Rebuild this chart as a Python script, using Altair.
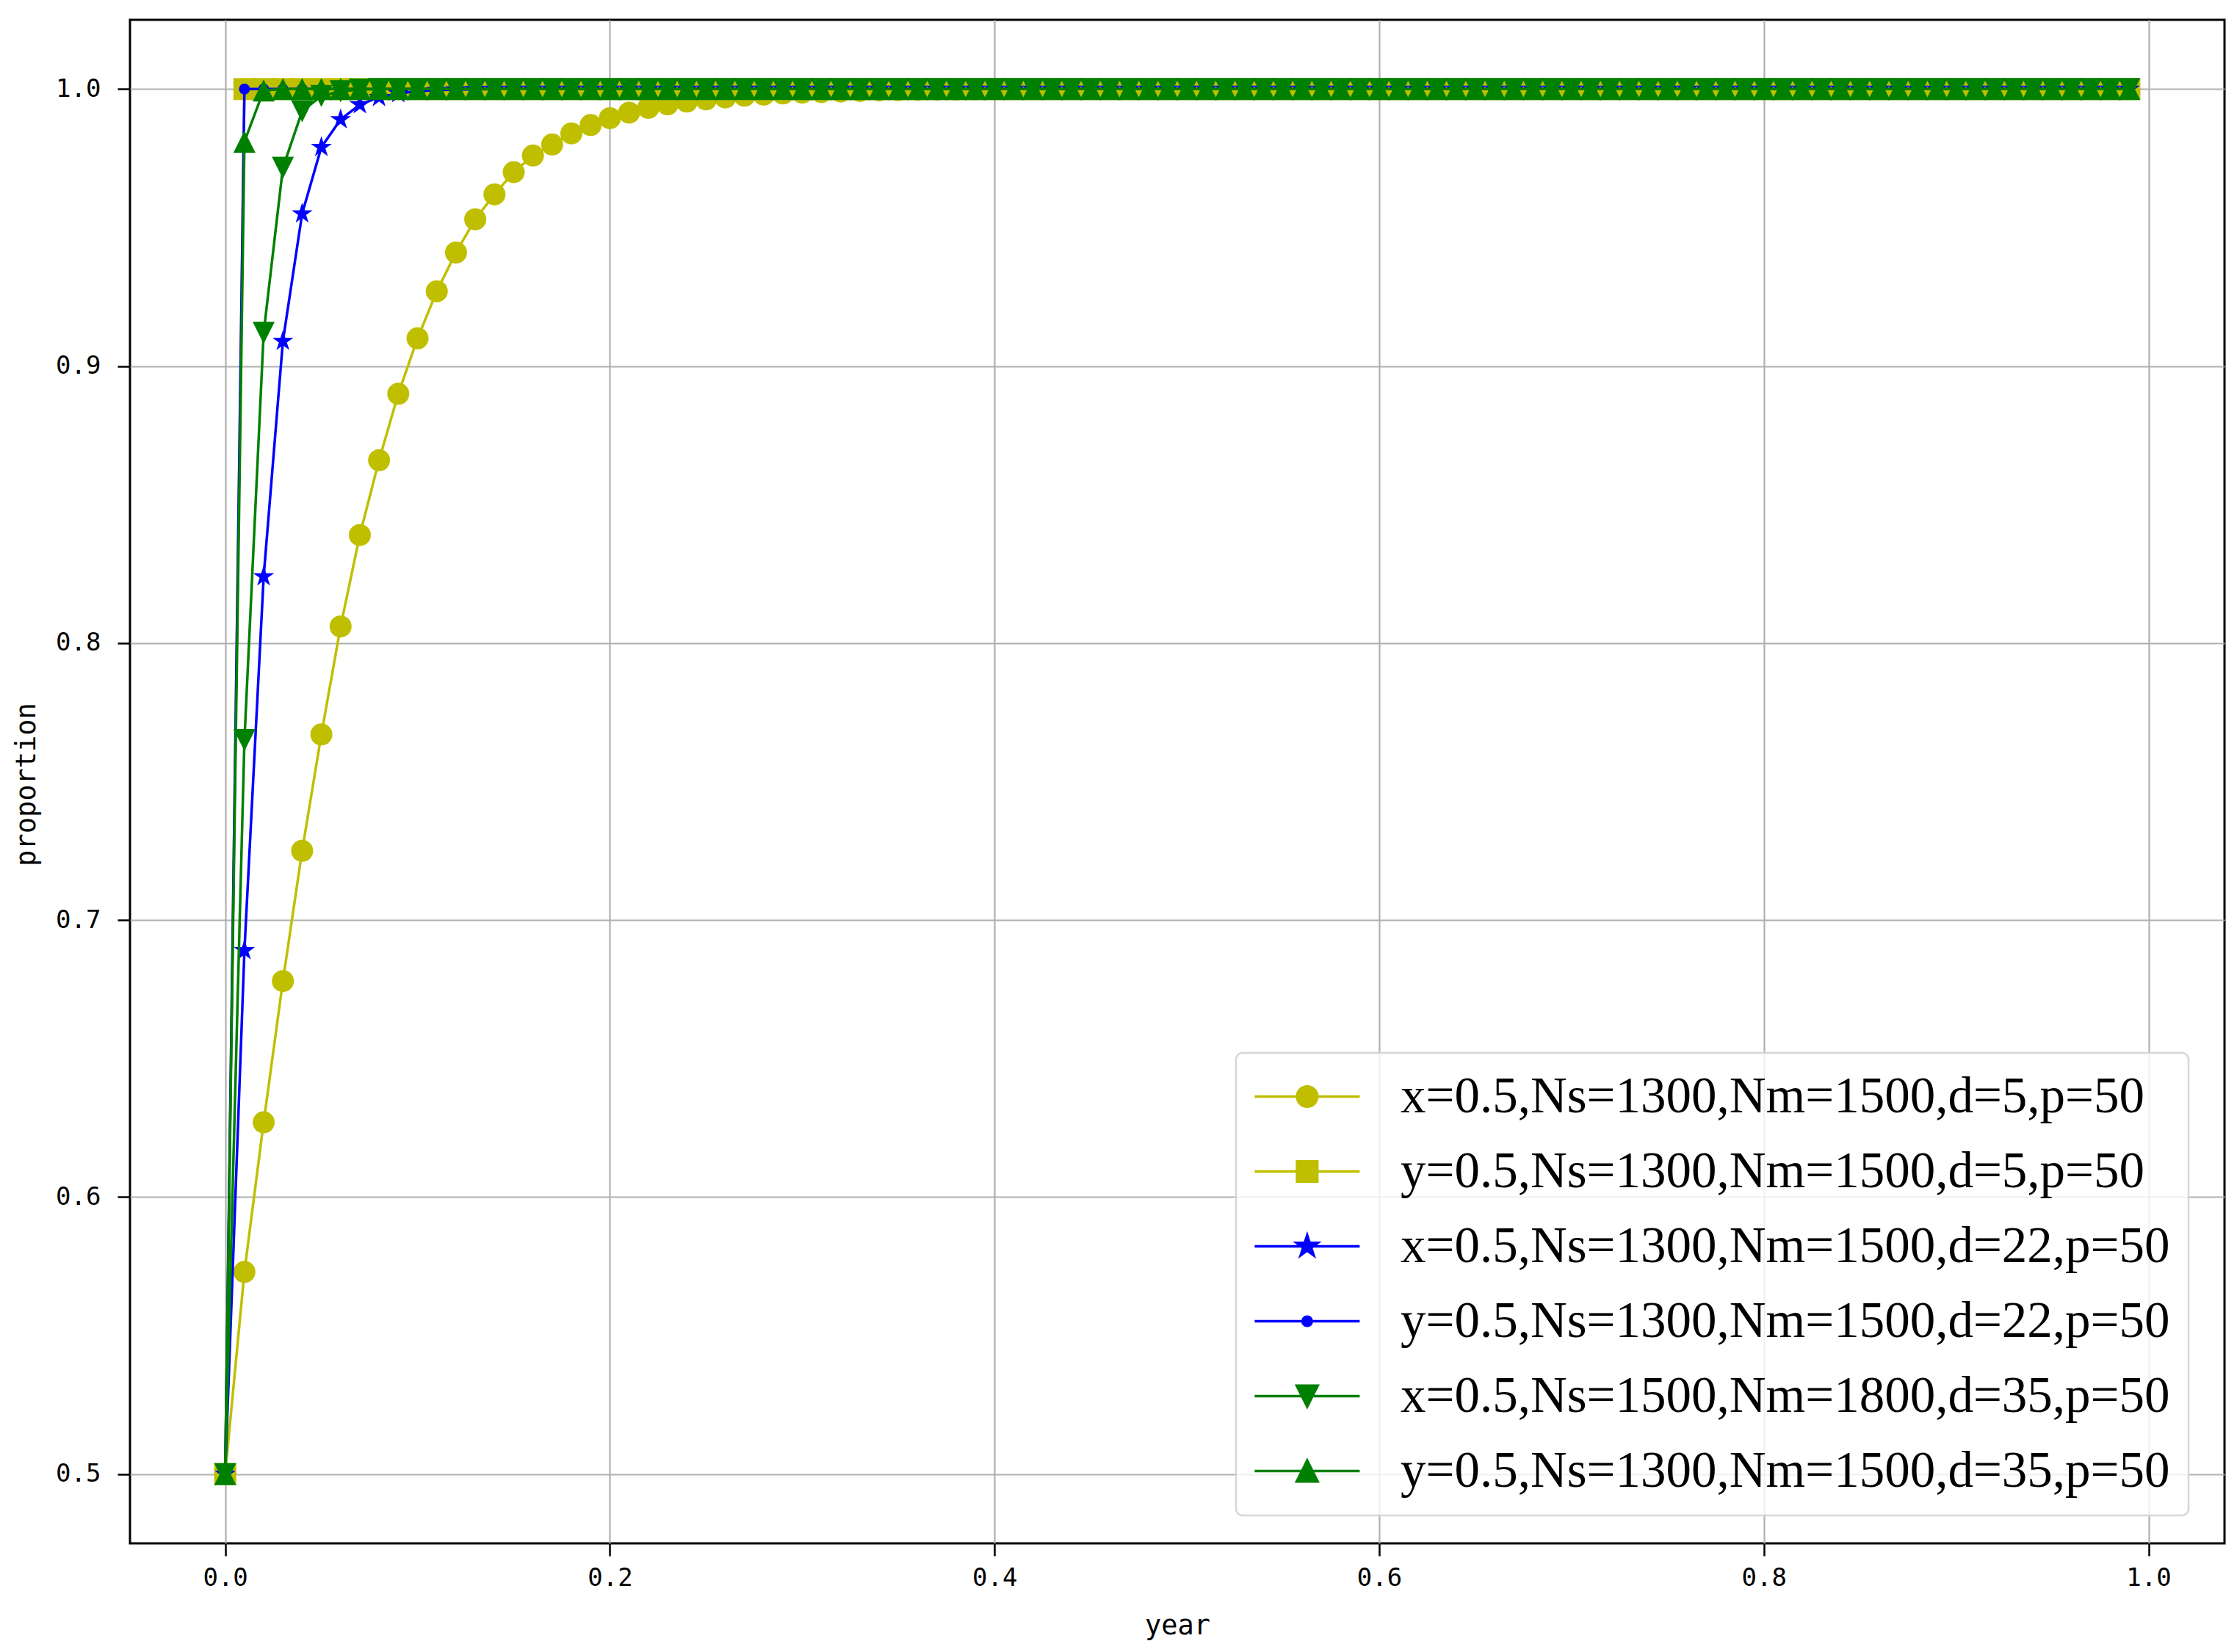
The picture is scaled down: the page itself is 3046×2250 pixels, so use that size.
import altair as alt
import pandas as pd

# ---- data ----
t = [round(i * 0.01, 2) for i in range(100)]

labels = [
    "x=0.5,Ns=1300,Nm=1500,d=5,p=50",
    "y=0.5,Ns=1300,Nm=1500,d=5,p=50",
    "x=0.5,Ns=1300,Nm=1500,d=22,p=50",
    "y=0.5,Ns=1300,Nm=1500,d=22,p=50",
    "x=0.5,Ns=1500,Nm=1800,d=35,p=50",
    "y=0.5,Ns=1300,Nm=1500,d=35,p=50",
]

x_d5 = [0.5, 0.573, 0.627, 0.678, 0.725, 0.767, 0.806, 0.839, 0.866, 0.890,
        0.910, 0.927, 0.941, 0.953, 0.962, 0.970, 0.976, 0.980, 0.984, 0.987,
        0.9895, 0.9915, 0.9932, 0.9945, 0.9955, 0.9963, 0.997, 0.9976, 0.998, 0.9984,
        0.9987, 0.9989, 0.9991, 0.9993, 0.9995, 0.9996, 0.9997, 0.9998, 0.9998, 0.9999] + [1.0] * 60
y_d5 = [0.5] + [1.0] * 99
x_d22 = [0.5, 0.689, 0.824, 0.909, 0.955, 0.979, 0.989, 0.9944, 0.997, 0.9984,
         0.9992, 0.9996, 0.9998, 0.9999] + [1.0] * 86
y_d22 = [0.5] + [1.0] * 99
x_d35 = [0.5, 0.765, 0.912, 0.9716, 0.992, 0.9975, 0.9992, 0.9998] + [1.0] * 92
y_d35 = [0.5, 0.981, 0.9995] + [1.0] * 97

series_values = [x_d5, y_d5, x_d22, y_d22, x_d35, y_d35]
colors = ["#bfbf00", "#bfbf00", "#0000ff", "#0000ff", "#008000", "#008000"]

rows = []
for lab, vals in zip(labels, series_values):
    for tt, v in zip(t, vals):
        rows.append({"series": lab, "t": tt, "v": v})
df = pd.DataFrame(rows)

# ---- marker shapes ----
star = ("M0,-1L0.2245,-0.309L0.9511,-0.309L0.3633,0.118L0.5878,0.809L0,0.382"
        "L-0.5878,0.809L-0.3633,0.118L-0.9511,-0.309L-0.2245,-0.309Z")
tri_down = "M0,1L-1,-1L1,-1Z"
tri_up = "M0,-1L-1,1L1,1Z"
shapes = ["circle", "square", star, "circle", tri_down, tri_up]
sizes = [900, 900, 900, 225, 900, 900]

L0, L1 = -2.27, 7.26
cx = (L0 + L1) / 2
line = f"M{L0},0H{L1}"


def circ(r):
    return f"M{cx + r:.3f},0A{r},{r},0,1,1,{cx - r:.3f},0A{r},{r},0,1,1,{cx + r:.3f},0Z"


leg_paths = [
    line + circ(0.92),
    line + f"M{cx - 0.92:.3f},-0.92H{cx + 0.92:.3f}V0.92H{cx - 0.92:.3f}Z",
    line + ("M{0:.4f},-1L{1:.4f},-0.309L{2:.4f},-0.309L{3:.4f},0.118L{4:.4f},0.809L{0:.4f},0.382"
            "L{5:.4f},0.809L{6:.4f},0.118L{7:.4f},-0.309L{8:.4f},-0.309Z").format(
        cx, cx + 0.2245, cx + 0.9511, cx + 0.3633, cx + 0.5878, cx - 0.5878, cx - 0.3633, cx - 0.9511, cx - 0.2245),
    line + circ(0.42),
    line + f"M{cx:.3f},0.95L{cx - 0.95:.3f},-0.95L{cx + 0.95:.3f},-0.95Z",
    line + f"M{cx:.3f},-0.95L{cx - 0.95:.3f},0.95L{cx + 0.95:.3f},0.95Z",
]

xscale = alt.Scale(domain=[-0.0495, 1.0395], nice=False, zero=False)
yscale = alt.Scale(domain=[0.475, 1.025], nice=False, zero=False)
xaxis = alt.Axis(values=[0.0, 0.2, 0.4, 0.6, 0.8, 1.0], format=".1f", title="year",
                 labelPadding=13, titleX=1426, titleY=123, titleBaseline="alphabetic",
                 titleAlign="center")
yaxis = alt.Axis(values=[0.5, 0.6, 0.7, 0.8, 0.9, 1.0], format=".1f", title="proportion",
                 labelPadding=23, titleX=-130, titleY=1041, titleAngle=270,
                 titleBaseline="alphabetic", titleAlign="center")

layers = []
for i, lab in enumerate(labels):
    sub = df[df["series"] == lab]
    base = alt.Chart(sub).encode(
        x=alt.X("t:Q", scale=xscale, axis=xaxis),
        y=alt.Y("v:Q", scale=yscale, axis=yaxis),
        order=alt.Order("t:Q"),
    )
    layers.append(base.mark_line(color=colors[i], strokeWidth=3.5))
    layers.append(base.mark_point(shape=shapes[i], size=sizes[i], filled=True,
                                  color=colors[i], opacity=1, strokeWidth=0))

legend = alt.Legend(
    title=None, orient="none", legendX=1506, legendY=1407,
    symbolSize=900, symbolStrokeWidth=3.5,
    labelFont="Liberation Serif", labelFontSize=69, labelColor="black",
    labelOffset=130, labelLimit=1500, padding=25, rowPadding=32,
    fillColor="rgba(255,255,255,0.8)", strokeColor="#d6d6d6", cornerRadius=9,
)
leg_layer = alt.Chart(df).transform_filter("datum.v > 5").mark_point(
    filled=True, opacity=1, strokeWidth=3.5
).encode(
    x=alt.X("t:Q", scale=xscale, axis=xaxis),
    y=alt.Y("v:Q", scale=yscale, axis=yaxis),
    shape=alt.Shape("series:N", scale=alt.Scale(domain=labels, range=leg_paths), legend=legend),
    fill=alt.Fill("series:N", scale=alt.Scale(domain=labels, range=colors), legend=legend),
    stroke=alt.Stroke("series:N", scale=alt.Scale(domain=labels, range=colors), legend=legend),
)
layers.append(leg_layer)

chart = alt.layer(*layers).properties(
    width=2852, height=2075,
    padding={"left": 169, "top": 19, "right": 9, "bottom": 140},
    autosize=alt.AutoSizeParams(type="none"),
).configure_axis(
    grid=True, gridColor="#b0b0b0", gridWidth=2.2, domain=False,
    tickColor="black", tickWidth=2.5, tickSize=17,
    labelFont="DejaVu Sans Mono", labelFontSize=34, labelColor="black",
    titleFont="DejaVu Sans Mono", titleFontSize=37, titleFontWeight="normal", titleColor="black",
).configure_view(
    stroke="black", strokeWidth=3
).configure_legend(
    strokeWidth=2.5
)

chart.save("out.html", embed_options={"renderer": "svg", "actions": False})
